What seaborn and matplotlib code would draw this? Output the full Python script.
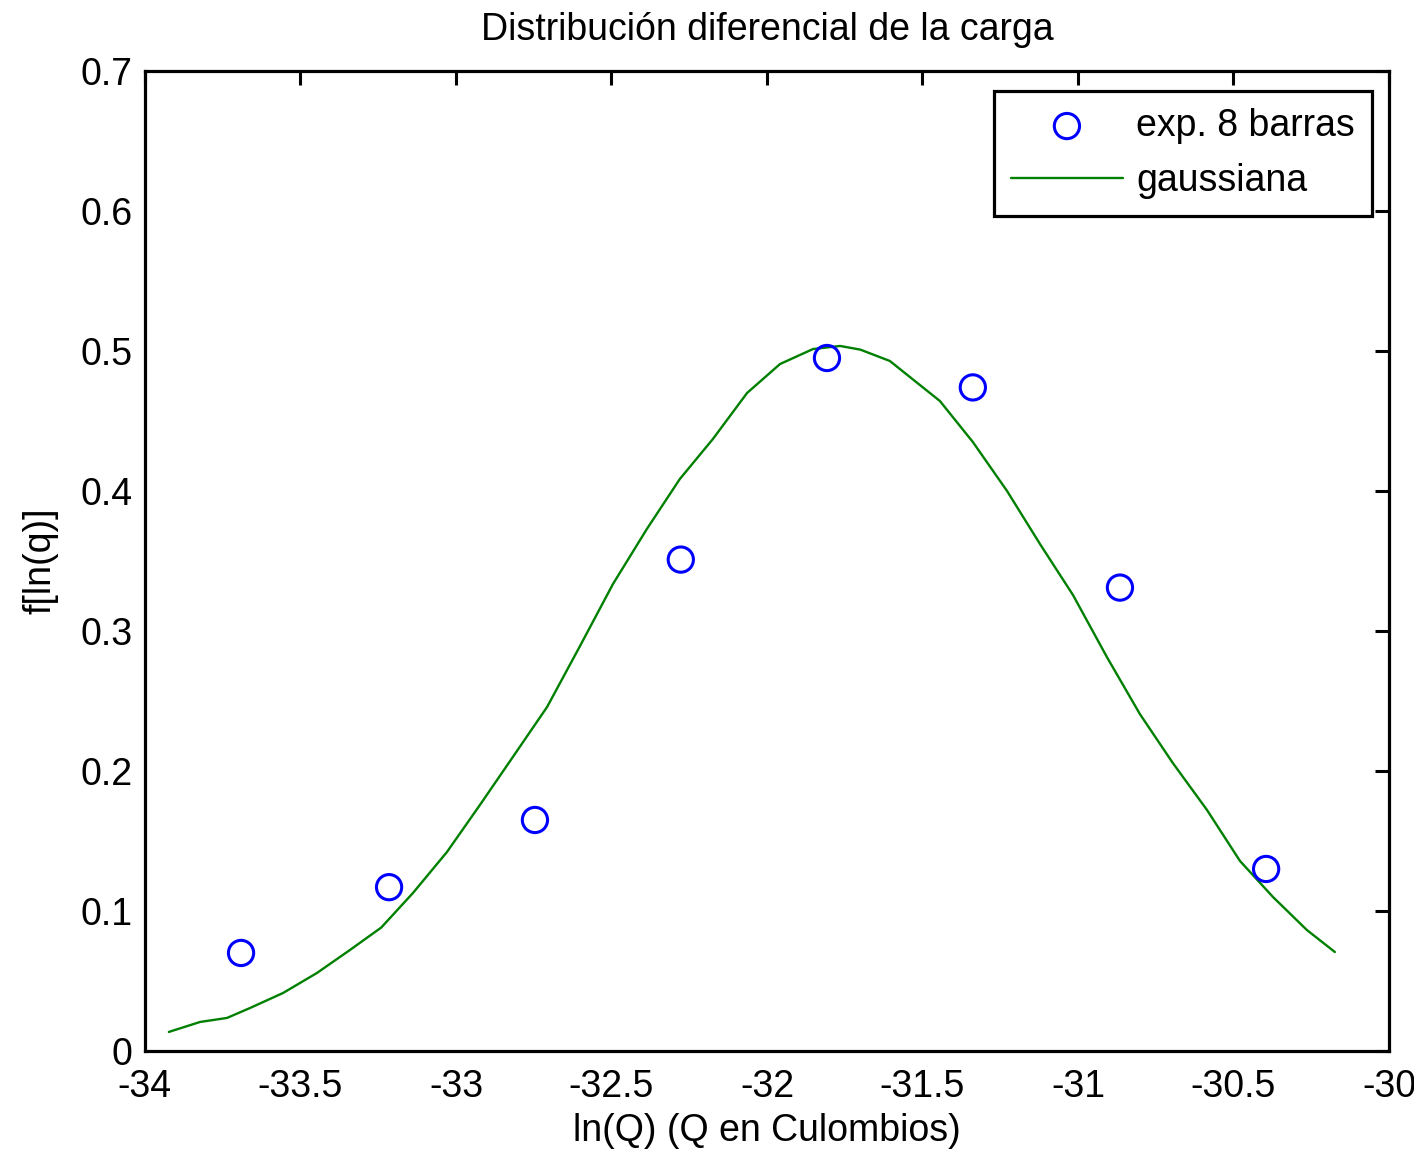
import matplotlib
matplotlib.use("Agg")
import matplotlib.pyplot as plt
import seaborn as sns
import pandas as pd

# experimental points
exp_x = [-33.691, -33.215, -32.746, -32.277, -31.807, -31.338, -30.865, -30.395]
exp_y = [0.070, 0.117, 0.165, 0.351, 0.495, 0.474, 0.331, 0.130]

# gaussian curve
gau_x = [-33.923, -33.823, -33.736, -33.662, -33.556, -33.447, -33.341, -33.240,
         -33.138, -33.029, -32.923, -32.817, -32.707, -32.601, -32.495, -32.386,
         -32.280, -32.174, -32.064, -31.958, -31.852, -31.765, -31.700, -31.605,
         -31.444, -31.338, -31.228, -31.122, -31.016, -30.907, -30.801, -30.695,
         -30.585, -30.479, -30.373, -30.264, -30.174]
gau_y = [0.0136, 0.0207, 0.0236, 0.0307, 0.0414, 0.0557, 0.0721, 0.0882,
         0.1129, 0.1421, 0.1757, 0.2100, 0.2457, 0.2893, 0.3336, 0.3729,
         0.4086, 0.4371, 0.4700, 0.4907, 0.5014, 0.5036, 0.5010, 0.4929,
         0.4643, 0.4350, 0.4000, 0.3621, 0.3257, 0.2814, 0.2407, 0.2057,
         0.1721, 0.1357, 0.1100, 0.0864, 0.0707]

xticks = [-34, -33.5, -33, -32.5, -32, -31.5, -31, -30.5, -30]
yticks = [0, 0.1, 0.2, 0.3, 0.4, 0.5, 0.6, 0.7]

sns.set_style("white")
plt.rcParams['font.family'] = ['Liberation Sans', 'DejaVu Sans']
plt.rcParams['text.color'] = 'black'
plt.rcParams['axes.labelcolor'] = 'black'

FS = 27

fig = plt.figure(figsize=(14.14, 11.53), dpi=100)
ax = fig.add_axes([0.1025, 0.0885, 0.8798, 0.8499])

df_exp = pd.DataFrame({"x": exp_x, "y": exp_y})
df_gau = pd.DataFrame({"x": gau_x, "y": gau_y})

sns.scatterplot(data=df_exp, x="x", y="y", ax=ax, marker="o", s=330,
                facecolors="none", edgecolor="#0000ff", linewidth=2.2,
                label="exp. 8 barras", zorder=3)
sns.lineplot(data=df_gau, x="x", y="y", ax=ax, color="#008000", linewidth=1.7,
             sort=False, estimator=None, label="gaussiana")

ax.set_xlim(-34, -30)
ax.set_ylim(0, 0.7)
ax.set_xticks(xticks)
ax.set_xticklabels([f"{t:g}" for t in xticks])
ax.set_yticks(yticks)
ax.set_yticklabels([f"{t:g}" for t in yticks])

ax.tick_params(direction="in", length=10, width=2.2, top=True, right=True,
               labelsize=FS, colors="black")
ax.tick_params(axis="x", pad=13)
ax.tick_params(axis="y", pad=9)
for s in ax.spines.values():
    s.set_visible(True)
    s.set_linewidth(2.3)
    s.set_color("black")

ax.set_title("Distribución diferencial de la carga", fontsize=FS, pad=22,
             color="black")
ax.set_xlabel("ln(Q) (Q en Culombios)", fontsize=FS, labelpad=6)
ax.set_ylabel("f[ln(q)]", fontsize=FS, labelpad=16)

leg = ax.legend(loc="upper right", bbox_to_anchor=(0.9863, 0.9796), fontsize=FS,
                frameon=True, fancybox=False, edgecolor="black", framealpha=1,
                handlelength=3.0, borderpad=0.45, labelspacing=0.52,
                handletextpad=0.35, borderaxespad=0)
leg.get_frame().set_linewidth(2.3)
for t in leg.get_texts():
    t.set_color("black")

fig.savefig("out.png", dpi=100, facecolor="white")
